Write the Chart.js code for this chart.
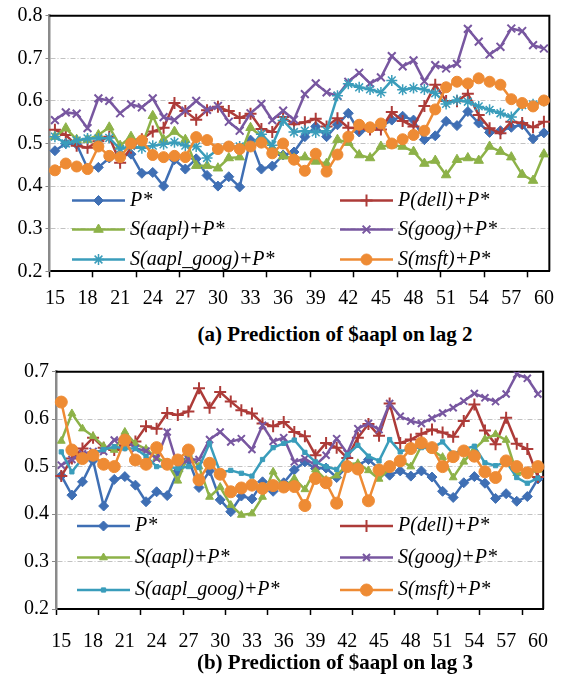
<!DOCTYPE html>
<html>
<head>
<meta charset="utf-8">
<script src="https://cdn.jsdelivr.net/npm/chart.js@4.4.1/dist/chart.umd.min.js"></script>
<style>
  body { margin: 0; background: #fff; }
  #wrap { position: relative; width: 563px; height: 678px; }
  .box { position: absolute; left: 0; width: 563px; }
  .caption { position: absolute; left: 125px; width: 420px; text-align: center;
             font: bold 21px "Liberation Serif", "Times New Roman", serif; color: #000; }
</style>
</head>
<body>
<div id="wrap">
  <div class="box" style="top:0;height:320px"><canvas id="lag2" width="563" height="320"></canvas></div>
  <div class="caption" style="top:322px">(a) Prediction of $aapl on lag 2</div>
  <div class="box" style="top:350px;height:310px"><canvas id="lag3" width="563" height="310"></canvas></div>
  <div class="caption" style="top:650px">(b) Prediction of $aapl on lag 3</div>
</div>
<script>
// x categories (day offsets)
const days = [15, 16, 17, 18, 19, 20, 21, 22, 23, 24, 25, 26, 27, 28, 29, 30, 31, 32, 33, 34, 35, 36, 37,
              38, 39, 40, 41, 42, 43, 44, 45, 46, 47, 48, 49, 50, 51, 52, 53, 54, 55, 56, 57, 58, 59, 60];

const seriesNames = ['P*', 'P(dell)+P*', 'S(aapl)+P*', 'S(goog)+P*', 'S(aapl_goog)+P*', 'S(msft)+P*'];

// (a) lag 2
const lag2P = [0.483, 0.50, 0.498, 0.442, 0.444, 0.466, 0.471, 0.475, 0.43, 0.432, 0.40, 0.462, 0.44, 0.464, 0.425, 0.40,
  0.422, 0.398, 0.508, 0.44, 0.447, 0.473, 0.48, 0.516, 0.54, 0.516, 0.544, 0.571, 0.527, 0.534, 0.54, 0.555, 0.564,
  0.555, 0.509, 0.518, 0.552, 0.542, 0.575, 0.548, 0.526, 0.53, 0.538, 0.544, 0.511, 0.525];
const lag2Dell = [0.532, 0.52, 0.495, 0.49, 0.505, 0.516, 0.455, 0.49, 0.51, 0.528, 0.537, 0.595, 0.576, 0.556, 0.578,
  0.586, 0.576, 0.56, 0.57, 0.534, 0.527, 0.562, 0.545, 0.55, 0.558, 0.54, 0.559, 0.537, 0.536, 0.533, 0.533, 0.574,
  0.553, 0.54, 0.588, 0.638, 0.6, 0.599, 0.617, 0.567, 0.536, 0.524, 0.551, 0.548, 0.538, 0.551];
const lag2Aapl = [0.516, 0.536, 0.509, 0.509, 0.52, 0.538, 0.495, 0.516, 0.495, 0.565, 0.509, 0.528, 0.509, 0.448, 0.448,
  0.442, 0.466, 0.468, 0.537, 0.517, 0.49, 0.47, 0.465, 0.468, 0.458, 0.453, 0.509, 0.502, 0.473, 0.466, 0.493, 0.496,
  0.493, 0.481, 0.453, 0.46, 0.426, 0.462, 0.466, 0.46, 0.493, 0.481, 0.468, 0.427, 0.413, 0.475];
const lag2Goog = [0.555, 0.573, 0.57, 0.536, 0.606, 0.60, 0.571, 0.592, 0.585, 0.606, 0.562, 0.555, 0.577, 0.60, 0.579,
  0.588, 0.551, 0.53, 0.571, 0.593, 0.555, 0.577, 0.556, 0.616, 0.641, 0.62, 0.612, 0.645, 0.666, 0.641, 0.655, 0.705,
  0.681, 0.695, 0.646, 0.684, 0.676, 0.687, 0.769, 0.739, 0.709, 0.727, 0.77, 0.764, 0.731, 0.723];
const lag2AaplGoog = [0.516, 0.50, 0.507, 0.512, 0.512, 0.513, 0.487, 0.494, 0.489, 0.495, 0.498, 0.503, 0.495, 0.493,
  0.466, 0.487, 0.493, 0.493, 0.493, 0.522, 0.496, 0.554, 0.527, 0.53, 0.526, 0.53, 0.612, 0.64, 0.632, 0.627, 0.62,
  0.648, 0.626, 0.63, 0.627, 0.618, 0.593, 0.602, 0.598, 0.587, 0.579, 0.571, 0.562, 0.59, 0.592, 0.60];
const lag2Msft = [0.437, 0.453, 0.446, 0.44, 0.493, 0.471, 0.468, 0.50, 0.507, 0.473, 0.468, 0.471, 0.468, 0.515, 0.508,
  0.487, 0.493, 0.487, 0.493, 0.502, 0.477, 0.50, 0.462, 0.436, 0.476, 0.434, 0.474, 0.516, 0.544, 0.538, 0.547, 0.50,
  0.51, 0.52, 0.53, 0.58, 0.632, 0.645, 0.641, 0.653, 0.645, 0.638, 0.604, 0.595, 0.587, 0.601];

// (b) lag 3
const lag3P = [0.481, 0.44, 0.468, 0.513, 0.417, 0.473, 0.479, 0.461, 0.426, 0.447, 0.439, 0.49, 0.515, 0.456, 0.491,
  0.43, 0.405, 0.438, 0.432, 0.468, 0.448, 0.466, 0.493, 0.51, 0.496, 0.497, 0.477, 0.50, 0.503, 0.515, 0.495, 0.482,
  0.491, 0.48, 0.491, 0.478, 0.448, 0.435, 0.466, 0.479, 0.465, 0.433, 0.443, 0.427, 0.437, 0.474];
const lag3Dell = [0.48, 0.517, 0.538, 0.561, 0.54, 0.535, 0.545, 0.553, 0.585, 0.58, 0.613, 0.609, 0.616, 0.665, 0.624,
  0.657, 0.637, 0.619, 0.612, 0.591, 0.585, 0.594, 0.573, 0.564, 0.524, 0.55, 0.54, 0.518, 0.561, 0.59, 0.565, 0.633,
  0.55, 0.557, 0.569, 0.578, 0.572, 0.563, 0.596, 0.631, 0.576, 0.547, 0.603, 0.548, 0.537, 0.478];
const lag3Aapl = [0.554, 0.612, 0.58, 0.564, 0.543, 0.535, 0.573, 0.548, 0.537, 0.518, 0.508, 0.47, 0.527, 0.50, 0.436,
  0.457, 0.419, 0.398, 0.401, 0.436, 0.489, 0.457, 0.475, 0.452, 0.494, 0.472, 0.481, 0.505, 0.507, 0.492, 0.474, 0.496,
  0.514, 0.50, 0.544, 0.535, 0.52, 0.477, 0.51, 0.537, 0.558, 0.568, 0.556, 0.486, 0.486, 0.493];
const lag3Goog = [0.503, 0.515, 0.527, 0.532, 0.532, 0.556, 0.559, 0.538, 0.533, 0.517, 0.573, 0.50, 0.515, 0.515, 0.557,
  0.573, 0.552, 0.559, 0.536, 0.587, 0.553, 0.561, 0.51, 0.517, 0.503, 0.524, 0.559, 0.528, 0.58, 0.591, 0.578, 0.633,
  0.606, 0.596, 0.591, 0.602, 0.613, 0.624, 0.638, 0.654, 0.645, 0.637, 0.653, 0.695, 0.686, 0.653];
const lag3AaplGoog = [0.531, 0.489, 0.517, 0.528, 0.536, 0.542, 0.538, 0.538, 0.522, 0.50, 0.50, 0.496, 0.50, 0.498,
  0.549, 0.488, 0.492, 0.486, 0.48, 0.515, 0.54, 0.549, 0.556, 0.53, 0.51, 0.50, 0.494, 0.525, 0.545, 0.522, 0.512,
  0.557, 0.531, 0.54, 0.54, 0.539, 0.552, 0.527, 0.537, 0.543, 0.508, 0.502, 0.51, 0.477, 0.465, 0.476];
const lag3Msft = [0.636, 0.535, 0.517, 0.524, 0.505, 0.50, 0.556, 0.514, 0.505, 0.54, 0.505, 0.514, 0.535, 0.472, 0.507,
  0.484, 0.447, 0.455, 0.461, 0.454, 0.46, 0.457, 0.458, 0.418, 0.475, 0.466, 0.423, 0.50, 0.495, 0.428, 0.493, 0.50,
  0.512, 0.538, 0.55, 0.54, 0.50, 0.521, 0.533, 0.522, 0.489, 0.477, 0.512, 0.50, 0.487, 0.50];

const colors = ['#3f6fb4', '#ad3b38', '#8db248', '#7857a0', '#3a9dbb', '#ee8b34'];
const serif = '"Liberation Serif", "Times New Roman", serif';

Chart.defaults.font.family = serif;
Chart.defaults.color = '#000';

// top/right frame plus the two-column key drawn inside the plot
const frameAndKey = {
    id: 'frameAndKey',
    beforeDatasetsDraw(chart) {
        const {ctx, chartArea: a} = chart;
        ctx.save();
        ctx.strokeStyle = '#000';
        ctx.lineWidth = 2;
        ctx.beginPath();
        ctx.moveTo(a.left, a.top);
        ctx.lineTo(a.right, a.top);
        ctx.lineTo(a.right, a.bottom);
        ctx.stroke();
        ctx.restore();
    },
    afterDatasetsDraw(chart, args, opts) {
        const ctx = chart.ctx;
        ctx.save();
        chart.data.datasets.forEach((ds, k) => {
            const x0 = opts.cols[k % 2];
            const y = opts.rows[Math.floor(k / 2)];
            ctx.strokeStyle = ds.borderColor;
            ctx.fillStyle = ds.backgroundColor;
            ctx.lineWidth = ds.borderWidth;
            ctx.beginPath();
            ctx.moveTo(x0, y);
            ctx.lineTo(x0 + opts.lineLen, y);
            ctx.stroke();
            if (Chart.helpers && Chart.helpers.drawPoint) {
                ctx.lineWidth = ds.pointBorderWidth;
                Chart.helpers.drawPoint(ctx, {
                    pointStyle: ds.pointStyle,
                    radius: ds.pointRadius,
                    rotation: 0,
                    borderWidth: ds.pointBorderWidth
                }, x0 + opts.lineLen / 2, y);
            }
            ctx.fillStyle = '#000';
            ctx.font = 'italic 20px ' + serif;
            ctx.textBaseline = 'middle';
            ctx.textAlign = 'left';
            ctx.fillText(ds.label, x0 + opts.textGap, y);
        });
        ctx.restore();
    }
};

function makeDatasets(values, markers) {
    return values.map((vals, k) => ({
        label: seriesNames[k],
        data: vals,
        borderColor: colors[k],
        backgroundColor: colors[k],
        borderWidth: 2.5,
        tension: 0,
        pointStyle: markers[k][0],
        pointRadius: markers[k][1],
        pointBorderWidth: markers[k][2],
        pointBackgroundColor: colors[k],
        pointBorderColor: colors[k],
        order: 5 - k
    }));
}

function makeOptions(o) {
    return {
        responsive: false,
        animation: false,
        layout: { padding: { top: o.top, right: o.right, left: 0, bottom: 0 } },
        scales: {
            x: {
                type: 'category',
                offset: true,
                grid: {
                    offset: true,
                    drawOnChartArea: false,
                    drawTicks: true,
                    tickLength: 6,
                    tickWidth: 1.5,
                    tickColor: c => (c.index % 4 === 0 ? '#000' : 'rgba(0,0,0,0)')
                },
                border: { color: '#000', width: 2 },
                ticks: {
                    autoSkip: false,
                    maxRotation: 0,
                    minRotation: 0,
                    padding: o.xPad,
                    font: { size: 20 },
                    callback: function(v, i) { return i % 3 === 0 ? this.getLabelForValue(v) : ''; }
                },
                afterFit: s => { s.height = o.xHeight; }
            },
            y: {
                min: o.min,
                max: o.max,
                grid: {
                    color: c => (Math.abs(c.tick.value - o.min) < 1e-6 || Math.abs(c.tick.value - o.max) < 1e-6)
                        ? 'rgba(0,0,0,0)' : '#c2c2c2',
                    lineWidth: 1,
                    tickLength: 4,
                    tickColor: '#888'
                },
                border: { color: '#8a8a8a', width: 2.5, dash: [5, 2, 1, 2] },
                ticks: {
                    stepSize: 0.1,
                    padding: o.yPad,
                    font: { size: 20 },
                    callback: v => v.toFixed(1)
                },
                afterFit: s => { s.width = o.left; }
            }
        },
        plugins: {
            legend: { display: false },
            tooltip: { enabled: false },
            frameAndKey: { cols: o.cols, rows: o.rows, lineLen: 53, textGap: 58 }
        }
    };
}

new Chart(document.getElementById('lag2'), {
    type: 'line',
    data: {
        labels: days,
        datasets: makeDatasets(
            [lag2P, lag2Dell, lag2Aapl, lag2Goog, lag2AaplGoog, lag2Msft],
            [['rectRot', 5, 1], ['cross', 6, 2], ['triangle', 5.5, 1], ['crossRot', 5.5, 2], ['star', 5.5, 1.5], ['circle', 5.5, 1]]
        )
    },
    options: makeOptions({
        top: 15.7, right: 7.5, left: 49.5, xHeight: 48.7, xPad: 9, yPad: 3,
        min: 0.2, max: 0.8,
        cols: [72, 340], rows: [200.5, 229.5, 259.5]
    }),
    plugins: [frameAndKey]
});

new Chart(document.getElementById('lag3'), {
    type: 'line',
    data: {
        labels: days,
        datasets: makeDatasets(
            [lag3P, lag3Dell, lag3Aapl, lag3Goog, lag3AaplGoog, lag3Msft],
            [['rectRot', 5, 1], ['cross', 6, 2], ['triangle', 4.5, 1], ['crossRot', 5, 2], ['rect', 3, 1], ['circle', 6, 1]]
        )
    },
    options: makeOptions({
        top: 21.7, right: 5.5, left: 56, xHeight: 51, xPad: 15, yPad: 3,
        min: 0.2, max: 0.7,
        cols: [77, 340], rows: [176, 207.5, 240]
    }),
    plugins: [frameAndKey]
});
</script>
</body>
</html>
